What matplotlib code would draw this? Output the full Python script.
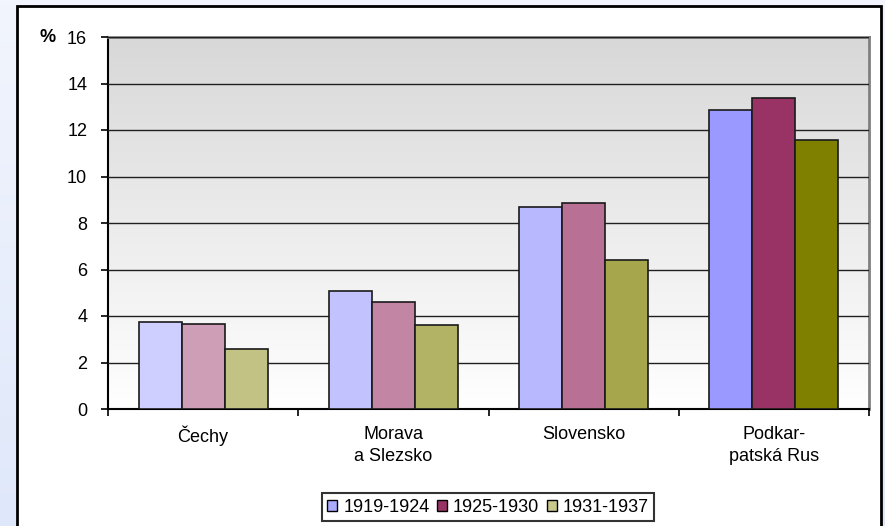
import numpy as np
from matplotlib import pyplot as plt
from matplotlib.patches import Patch, Rectangle

plt.rcParams['font.family'] = ['Liberation Sans', 'DejaVu Sans']

regions = ["Čechy", "Morava\na Slezsko", "Slovensko", "Podkar-\npatská Rus"]
periods = ["1919-1924", "1925-1930", "1931-1937"]
p1919 = [3.74, 5.07, 8.69, 12.84]
p1925 = [3.67, 4.60, 8.86, 13.38]
p1931 = [2.58, 3.61, 6.41, 11.55]
yticks = [0, 2, 4, 6, 8, 10, 12, 14, 16]

base_colors = ["#9999ff", "#993366", "#808000"]
legend_colors = ["#aaaaff", "#993366", "#c8c88a"]
shade = [0.48, 0.6, 0.7, 1.0]  # how strong each group is drawn

def blend(c, a):
    rgb = np.array(plt.matplotlib.colors.to_rgb(c))
    return tuple(rgb * a + (1 - a))

fs = 13
fig = plt.figure(figsize=(8.85, 5.26), dpi=100)

# light blue slide background + white chart box
bg = fig.add_axes([0, 0, 1, 1], zorder=-10)
grad = np.linspace(0, 1, 100).reshape(-1, 1)
bg.imshow(grad, extent=[0, 1, 0, 1], aspect='auto',
          cmap=plt.matplotlib.colors.LinearSegmentedColormap.from_list('b', ['#f2f5fd', '#dfe8fa']))
bg.add_patch(Rectangle((17/885, -0.05), (881-17)/885, 1.05 - 6/526, facecolor='white',
                       edgecolor='black', linewidth=2))
bg.set_xlim(0, 1)
bg.set_ylim(0, 1)
bg.axis('off')

ax = fig.add_axes([108/885, 1 - 409/526, (869-108)/885, (409-37)/526])
ax.patch.set_alpha(0)

# grey gradient in plot area
g = np.linspace(0, 1, 200).reshape(-1, 1)
ax.imshow(g, extent=[-0.5, 3.5, 0, 16], aspect='auto', zorder=0,
          cmap=plt.matplotlib.colors.LinearSegmentedColormap.from_list('g', ['white', '#d8d8d8']),
          origin='lower')

x = np.arange(len(regions))
w = 0.226
series = [p1919, p1925, p1931]
for k in range(3):
    cols = [blend(base_colors[k], shade[i]) for i in range(len(regions))]
    ax.bar(x + (k - 1) * w, series[k], width=w, color=cols, edgecolor='#1a1a1a',
           linewidth=1.2, zorder=3)

ax.set_xlim(-0.5, 3.5)
ax.set_ylim(0, 16)
ax.set_yticks(yticks)
ax.yaxis.grid(True, color='#202020', linewidth=1.0, zorder=1)
ax.set_axisbelow(False)
for gl in ax.get_ygridlines():
    gl.set_zorder(1)

ax.set_xticks(np.arange(-0.5, 4, 1))
ax.set_xticklabels([])
ax.set_xticks(x, minor=True)
ax.set_xticklabels(regions, minor=True, fontsize=fs, linespacing=1.4)
ax.tick_params(axis='x', which='minor', length=0, pad=12)
ax.tick_params(axis='x', which='major', length=5, width=1.2, direction='out')
ax.tick_params(axis='y', length=5, width=1.2, pad=10, labelsize=fs)

for s in ['left', 'bottom']:
    ax.spines[s].set_color('black')
    ax.spines[s].set_linewidth(1.5)
for s in ['top', 'right']:
    ax.spines[s].set_color('#808080')
    ax.spines[s].set_linewidth(2)

fig.text(48/885, 1 - 37/526, "%", fontsize=fs, fontweight='bold', ha='center', va='center')

handles = [Patch(facecolor=legend_colors[k], edgecolor='black', linewidth=1) for k in range(3)]
leg = fig.legend(handles, periods, loc='center', bbox_to_anchor=(488/885, 1 - 507/526), ncol=3,
                 fontsize=fs, frameon=True, fancybox=False, handlelength=0.55, handleheight=0.55,
                 handletextpad=0.35, columnspacing=0.4, borderpad=0.3, edgecolor='black')
leg.get_frame().set_linewidth(1.5)

plt.savefig('out.png', dpi=100)
